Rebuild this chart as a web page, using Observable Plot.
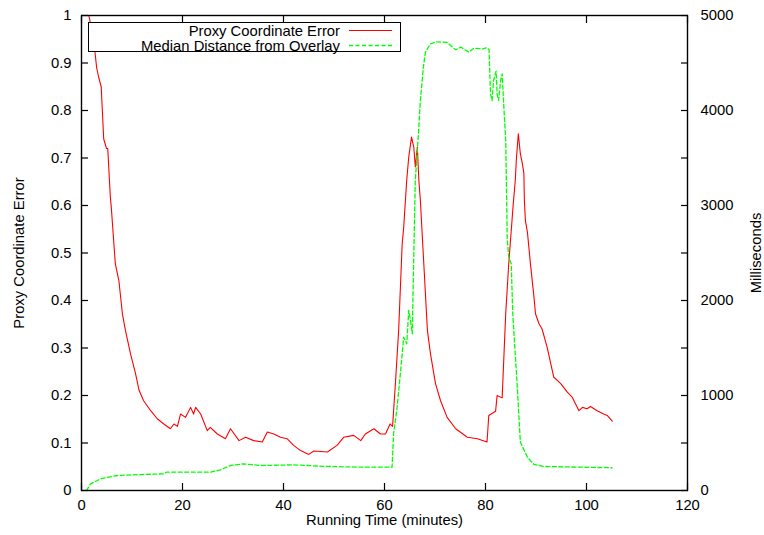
<!DOCTYPE html>
<html>
<head>
<meta charset="utf-8">
<script src="https://cdn.jsdelivr.net/npm/d3@7"></script>
<script src="https://cdn.jsdelivr.net/npm/@observablehq/plot@0.6"></script>
<style>
  html, body { margin: 0; padding: 0; background: #fff; }
  #wrap { position: relative; width: 764px; height: 535px; font-family: "Liberation Sans", Arial, sans-serif; }
  #legend { position: absolute; left: 88px; top: 22px; width: 311px; height: 28px; border: 1.3px solid #000; background: #fff; font-size: 14.8px; color: #000; }
  .row { position: absolute; left: 0; width: 100%; height: 15px; }
  .row span { position: absolute; right: 60px; top: 50%; transform: translateY(-50%); white-space: nowrap; line-height: 1; }
  .row svg { position: absolute; left: 260px; top: 0; }
</style>
</head>
<body>
<div id="wrap"></div>
<script>
// X axis
const xTicks = [0, 20, 40, 60, 80, 100, 120];
const xTitle = "Running Time (minutes)";
// Left axis (Proxy Coordinate Error)
const yTicks = [0, 0.1, 0.2, 0.3, 0.4, 0.5, 0.6, 0.7, 0.8, 0.9, 1];
const yTitle = "Proxy Coordinate Error";
// Right axis (Milliseconds)
const msMax = 5000;
const y2Title = "Milliseconds";
const seriesNames = ["Proxy Coordinate Error", "Median Distance from Overlay"];

// Series 1: Proxy Coordinate Error
const errTime = [1.2,1.45,1.8,2.1,2.4,3.0,3.4,3.9,4.4,4.95,5.2,5.7,5.9,6.7,7.4,8.1,8.7,9.7,10.7,11.4,12.3,13.7,15.0,16.3,17.6,18.3,19.0,19.6,20.6,21.6,22.2,22.6,23.6,24.9,25.5,26.9,28.5,29.5,31.2,32.5,34.1,35.8,36.8,38.1,39.4,40.7,42.0,43.4,45.0,46.0,48.7,50.6,51.9,53.9,55.3,56.2,57.9,59.2,60.2,61.1,61.6,62.2,62.8,63.5,63.8,64.4,64.8,65.35,65.8,66.1,66.5,66.8,67.1,68.5,69.1,70.1,71.1,72.4,74.1,76.4,78.4,80.3,80.65,82.0,82.3,83.3,84.0,84.6,85.5,85.9,86.1,86.5,86.9,87.3,87.6,87.7,87.9,88.3,88.9,89.6,89.9,90.6,91.2,92.2,93.5,94.9,96.2,97.2,98.5,99.2,100.1,100.8,102.1,103.4,104.1,105.1];
const errValue = [1.0,1.0,0.983,0.975,0.95,0.89,0.87,0.85,0.74,0.72,0.72,0.62,0.596,0.477,0.442,0.372,0.337,0.288,0.246,0.211,0.189,0.168,0.151,0.140,0.130,0.140,0.135,0.161,0.154,0.175,0.161,0.175,0.161,0.126,0.133,0.119,0.109,0.130,0.105,0.112,0.105,0.102,0.123,0.119,0.112,0.109,0.095,0.084,0.076,0.083,0.081,0.095,0.112,0.116,0.105,0.119,0.130,0.119,0.119,0.140,0.135,0.232,0.337,0.519,0.554,0.653,0.702,0.744,0.723,0.681,0.723,0.653,0.611,0.337,0.288,0.225,0.189,0.154,0.130,0.112,0.109,0.102,0.158,0.167,0.200,0.195,0.372,0.477,0.604,0.653,0.695,0.751,0.709,0.688,0.667,0.611,0.568,0.544,0.477,0.407,0.372,0.351,0.340,0.302,0.239,0.225,0.207,0.196,0.168,0.175,0.172,0.177,0.168,0.161,0.158,0.146];

// Series 2: Median Distance from Overlay (milliseconds)
const msTime = [1.0,1.8,3.8,7.1,11.7,16.3,16.8,25.5,27.5,29.5,32.1,35.5,42.0,48.7,55.3,61.5,61.8,62.5,63.2,63.8,64.4,64.8,65.15,65.5,65.7,66.1,66.8,67.1,67.7,68.1,69.1,70.4,72.4,73.1,74.1,75.1,76.7,77.7,79.4,80.3,80.7,81.0,81.3,81.6,82.1,82.3,82.6,83.0,83.3,83.6,84.0,84.2,84.3,84.6,85.1,85.4,85.8,86.3,86.9,88.3,89.6,91.5,105.1];
const msValue = [0,70,123,158,168,175,193,193,218,263,281,263,270,253,246,246,597,877,1263,1614,1544,1895,1789,1649,2210,3263,3824,4105,4456,4614,4702,4723,4716,4684,4639,4667,4614,4656,4649,4660,4640,4175,4105,4316,4414,4175,4105,4316,4386,4070,3684,3053,2649,2456,2386,1860,1509,1088,509,351,274,253,239];

const errData = errTime.map((t, i) => ({t, v: errValue[i]}));
const msData = msTime.map((t, i) => ({t, ms: msValue[i]}));

const RED = "#ff0000", GREEN = "#00ff00";
const fmtLeft = d => (d === 0 || d === 1) ? String(d) : d.toFixed(1);
const fmtRight = d => (Math.round(d * 10) % 2 === 0) ? String(Math.round(d * msMax)) : "";

const chart = Plot.plot({
  width: 764,
  height: 535,
  marginLeft: 81,
  marginRight: 77,
  marginTop: 15,
  marginBottom: 45,
  style: {fontFamily: "'Liberation Sans', Arial, sans-serif", fontSize: "14.8px", background: "#fff", color: "#000", overflow: "visible"},
  x: {domain: [0, 120]},
  y: {domain: [0, 1]},
  marks: [
    Plot.line(errData, {x: "t", y: "v", stroke: RED, strokeWidth: 1.1}),
    Plot.line(msData, {x: "t", y: d => d.ms / msMax, stroke: GREEN, strokeWidth: 1.3, strokeDasharray: "4,2.5"}),
    Plot.axisX({ticks: xTicks, tickSize: -7, tickPadding: 16, label: null, strokeWidth: 1.2}),
    Plot.axisX({anchor: "top", ticks: xTicks, tickSize: -7, tickFormat: () => "", label: null, strokeWidth: 1.2}),
    Plot.axisY({ticks: yTicks, tickSize: -7, tickPadding: 17, tickFormat: fmtLeft, label: null, strokeWidth: 1.2}),
    Plot.axisY({anchor: "right", ticks: yTicks, tickSize: -7, tickPadding: 20, tickFormat: fmtRight, label: null, strokeWidth: 1.2}),
    Plot.frame({stroke: "#000", strokeWidth: 1.4}),
    Plot.text([xTitle], {frameAnchor: "bottom", dy: 30, lineAnchor: "middle", textAnchor: "middle", text: d => d}),
    Plot.text([yTitle], {frameAnchor: "left", dx: -62, rotate: -90, textAnchor: "middle", lineAnchor: "middle", text: d => d}),
    Plot.text([y2Title], {frameAnchor: "right", dx: 69, rotate: -90, textAnchor: "middle", lineAnchor: "middle", text: d => d})
  ]
});

const wrap = document.getElementById("wrap");
wrap.appendChild(chart);

const legend = document.createElement("div");
legend.id = "legend";
const colors = [RED, GREEN];
const dashes = ["", "4,2.5"];
seriesNames.forEach((name, i) => {
  const row = document.createElement("div");
  row.className = "row";
  row.style.top = (i === 0 ? 0 : 15) + "px";
  row.innerHTML = `<span>${name}</span><svg width="44" height="15"><line x1="0" x2="43" y1="7.5" y2="7.5" stroke="${colors[i]}" stroke-width="${i === 0 ? 1.1 : 1.3}" ${dashes[i] ? `stroke-dasharray="${dashes[i]}"` : ""}/></svg>`;
  legend.appendChild(row);
});
wrap.appendChild(legend);
</script>
</body>
</html>
